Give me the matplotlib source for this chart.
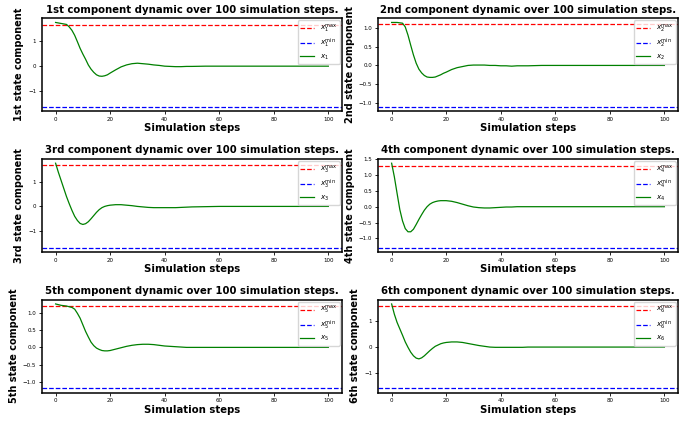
import matplotlib
matplotlib.use("Agg")
import matplotlib.pyplot as plt
from matplotlib.ticker import MultipleLocator

ordinals = ["1st", "2nd", "3rd", "4th", "5th", "6th"]
bounds = [1.65, 1.11, 1.67, 1.29, 1.18, 1.61]
ytick_steps = [1.0, 0.5, 1.0, 0.5, 0.5, 1.0]

steps = [0, 1, 2, 3, 4, 5, 6, 7, 8, 9, 10, 11, 12, 13, 14, 15, 16, 17, 18, 19, 20,
         22, 24, 26, 28, 30, 32, 34, 36, 38, 40, 42, 44, 46, 48, 50,
         55, 60, 70, 80, 90, 100]

x1 = [1.77, 1.75, 1.73, 1.71, 1.69, 1.59, 1.45, 1.25, 0.99, 0.72, 0.49, 0.28, 0.05, -0.12,
      -0.25, -0.35, -0.40, -0.41, -0.39, -0.35, -0.28,
      -0.15, -0.03, 0.05, 0.10, 0.12, 0.10, 0.08, 0.05, 0.03, 0.00, -0.01, -0.02, -0.02,
      -0.01, -0.01, 0.0, 0.0, 0.0, 0.0, 0.0, 0.0]
x2 = [1.15, 1.15, 1.15, 1.14, 1.13, 1.03, 0.81, 0.54, 0.28, 0.06, -0.10, -0.20, -0.27, -0.31,
      -0.32, -0.32, -0.31, -0.28, -0.25, -0.21, -0.18,
      -0.11, -0.06, -0.03, 0.00, 0.01, 0.01, 0.01, 0.00, 0.00, -0.01, -0.01, -0.02, -0.01,
      -0.01, -0.01, 0.0, 0.0, 0.0, 0.0, 0.0, 0.0]
x3 = [1.75, 1.39, 1.06, 0.73, 0.40, 0.11, -0.16, -0.40, -0.57, -0.69, -0.73, -0.70, -0.62,
      -0.50, -0.37, -0.24, -0.13, -0.05, 0.00, 0.03, 0.05,
      0.07, 0.07, 0.05, 0.03, 0.00, -0.02, -0.04, -0.05, -0.05, -0.05, -0.05, -0.05, -0.04,
      -0.03, -0.02, -0.01, 0.0, 0.0, 0.0, 0.0, 0.0]
x4 = [1.37, 0.94, 0.42, -0.09, -0.45, -0.69, -0.79, -0.79, -0.71, -0.56, -0.40, -0.25, -0.11,
      0.00, 0.08, 0.13, 0.16, 0.18, 0.19, 0.19, 0.19,
      0.17, 0.13, 0.08, 0.03, -0.01, -0.03, -0.04, -0.04, -0.03, -0.02, -0.01, -0.01, 0.00,
      0.00, 0.00, 0.0, 0.0, 0.0, 0.0, 0.0, 0.0]
x5 = [1.25, 1.23, 1.21, 1.20, 1.19, 1.17, 1.15, 1.10, 0.98, 0.84, 0.65, 0.46, 0.30, 0.15,
      0.05, -0.02, -0.06, -0.09, -0.10, -0.10, -0.09,
      -0.05, -0.01, 0.03, 0.06, 0.08, 0.09, 0.09, 0.08, 0.06, 0.04, 0.03, 0.02, 0.01,
      0.00, 0.00, 0.0, 0.0, 0.0, 0.0, 0.0, 0.0]
x6 = [1.68, 1.28, 0.96, 0.71, 0.46, 0.20, -0.01, -0.20, -0.34, -0.43, -0.46, -0.42, -0.34,
      -0.24, -0.14, -0.05, 0.03, 0.08, 0.13, 0.16, 0.18,
      0.20, 0.20, 0.18, 0.14, 0.10, 0.06, 0.03, 0.00, -0.01, -0.01, -0.01, -0.01, -0.01,
      -0.01, 0.00, 0.0, 0.0, 0.0, 0.0, 0.0, 0.0]
series = [x1, x2, x3, x4, x5, x6]

fig, axes = plt.subplots(3, 2, figsize=(6.99, 4.24), dpi=100)
fig.subplots_adjust(left=0.060, right=0.970, top=0.957, bottom=0.074,
                    wspace=0.12, hspace=0.515)

for i, ax in enumerate(axes.flat):
    k = i + 1
    b = bounds[i]
    ax.axhline(b, color="r", linestyle="--", linewidth=0.9,
               label=r"$x_{%d}^{\max}$" % k)
    ax.axhline(-b, color="b", linestyle="--", linewidth=0.9,
               label=r"$x_{%d}^{\min}$" % k)
    ax.plot(steps, series[i], color="g", linewidth=0.9, label=r"$x_{%d}$" % k)
    ax.set_title("%s component dynamic over 100 simulation steps." % ordinals[i],
                 fontsize=7.3, fontweight="bold", pad=4)
    ax.set_xlabel("Simulation steps", fontsize=7.3, fontweight="bold", labelpad=1)
    ax.set_ylabel("%s state component" % ordinals[i], fontsize=7.0,
                  fontweight="bold", labelpad=3)
    ax.yaxis.set_major_locator(MultipleLocator(ytick_steps[i]))
    ax.tick_params(labelsize=4, length=2.2, width=0.6, pad=2)
    for sp in ax.spines.values():
        sp.set_linewidth(1.1)
    ax.legend(loc="upper right", fontsize=5.2, borderaxespad=0.3, borderpad=0.35,
              handlelength=1.9, handletextpad=0.8, labelspacing=0.3)

fig.savefig("out.png", dpi=100)
